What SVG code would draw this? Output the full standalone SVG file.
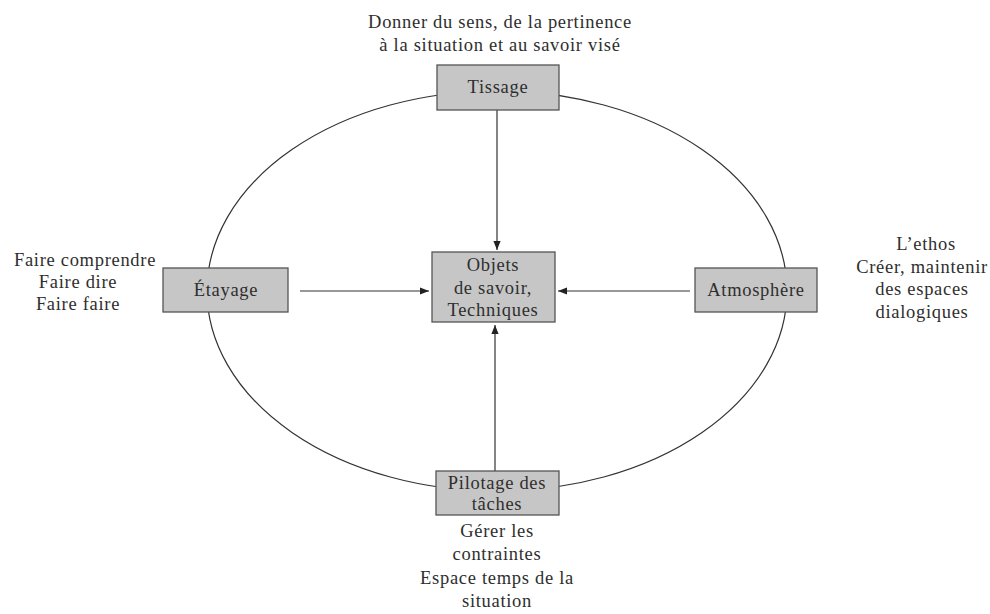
<svg xmlns="http://www.w3.org/2000/svg" width="990" height="614" viewBox="0 0 990 614">
<style>
text{font-family:"Liberation Serif","Times New Roman",serif;font-size:18.5px;letter-spacing:0.7px;fill:#2e2e2e;text-anchor:middle}
.box{fill:#c6c6c6;stroke:#555;stroke-width:1.3}
.ln{stroke:#333;stroke-width:1.2;fill:none}
</style>
<defs>
<marker id="ah" viewBox="0 0 10 10" refX="10" refY="5" markerWidth="9" markerHeight="9" markerUnits="userSpaceOnUse" orient="auto">
<path d="M0,1 L10,5 L0,9 z" fill="#222"/>
</marker>
</defs>
<rect width="990" height="614" fill="#fff"/>
<g id="connectors">
<ellipse class="ln" cx="497" cy="291" rx="290" ry="200"/>
<line class="ln" x1="497" y1="110" x2="497" y2="250" marker-end="url(#ah)"/>
<line class="ln" x1="300" y1="291" x2="429" y2="291" marker-end="url(#ah)"/>
<line class="ln" x1="690" y1="291" x2="558" y2="291" marker-end="url(#ah)"/>
<line class="ln" x1="495" y1="471" x2="495" y2="325" marker-end="url(#ah)"/>
</g>
<g id="tissage">
<rect class="box" x="437" y="65" width="122" height="45"/>
<text x="498" y="93">Tissage</text>
<text x="500" y="28">Donner du sens, de la pertinence</text>
<text x="500" y="51">à la situation et au savoir visé</text>
</g>
<g id="etayage">
<rect class="box" x="163" y="268" width="125" height="44"/>
<text x="226" y="296">Étayage</text>
<text x="85" y="266">Faire comprendre</text>
<text x="78" y="288">Faire dire</text>
<text x="78" y="310">Faire faire</text>
</g>
<g id="objets">
<rect class="box" x="432" y="252" width="123" height="70"/>
<text x="493" y="271">Objets</text>
<text x="493" y="294">de savoir,</text>
<text x="493" y="316">Techniques</text>
</g>
<g id="atmosphere">
<rect class="box" x="695" y="268" width="122" height="44"/>
<text x="756" y="296">Atmosphère</text>
<text x="926" y="250">L’ethos</text>
<text x="922" y="273">Créer, maintenir</text>
<text x="922" y="295">des espaces</text>
<text x="922" y="318">dialogiques</text>
</g>
<g id="pilotage">
<rect class="box" x="436" y="471" width="123" height="44"/>
<text x="497" y="489">Pilotage des</text>
<text x="497" y="510">tâches</text>
<text x="497" y="537">Gérer les</text>
<text x="497" y="560">contraintes</text>
<text x="497" y="584">Espace temps de la</text>
<text x="497" y="607">situation</text>
</g>
</svg>
